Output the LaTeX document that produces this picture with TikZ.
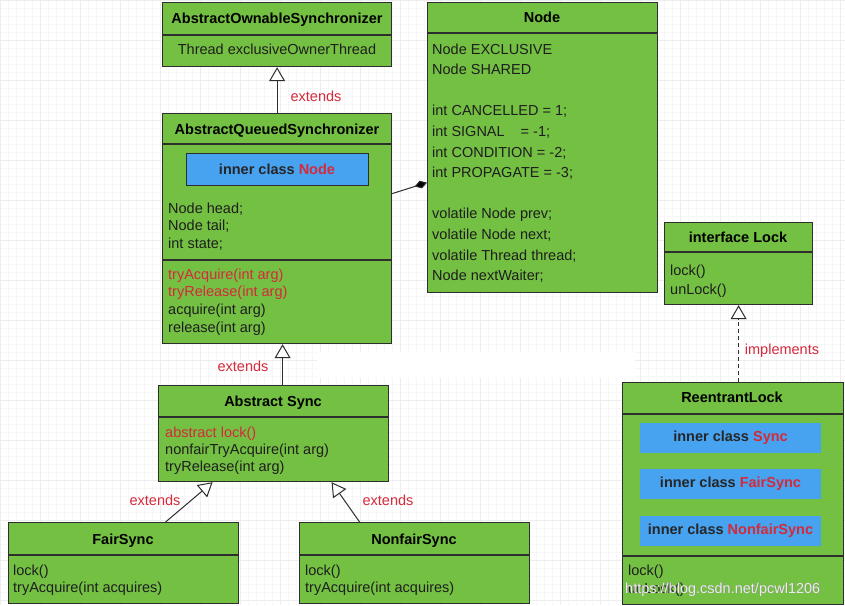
\documentclass[tikz,border=0pt]{standalone}
\usepackage{fontspec}
\setmainfont{Liberation Sans}
\usetikzlibrary{arrows.meta,calc}
\definecolor{umlgreen}{HTML}{74C043}
\definecolor{innerblue}{HTML}{47A2F0}
\definecolor{lblred}{HTML}{D42A3A}
\definecolor{edgegray}{HTML}{2E2E2E}
\definecolor{txtgray}{HTML}{1E1E1E}
\begin{document}
\begin{tikzpicture}[x=1pt,y=-1pt,
  cls/.style={draw=edgegray, line width=1.2pt, fill=umlgreen, anchor=north west, inner sep=0pt, rectangle},
  div/.style={draw=edgegray, line width=1.1pt},
  ttl/.style={anchor=base, inner sep=0pt, font=\fontsize{14.5}{16}\selectfont\bfseries, text=black},
  txt/.style={anchor=base west, inner sep=0pt, font=\fontsize{14.5}{16}\selectfont, text=txtgray},
  ctxt/.style={anchor=base, inner sep=0pt, font=\fontsize{14.5}{16}\selectfont, text=txtgray},
  red/.style={text=lblred},
  innerbox/.style={fill=innerblue, inner sep=0pt, font=\fontsize{14.5}{16}\selectfont\bfseries, text=black!85},
  lbl/.style={anchor=base, inner sep=0pt, font=\fontsize{14.5}{16}\selectfont, text=lblred},
  ext/.style={draw=edgegray, line width=1pt, -{Triangle[length=14pt,width=16pt,fill=white,line width=1pt]}},
  impl/.style={ext, dash pattern=on 4pt off 3pt},
  comp/.style={draw=edgegray, line width=1pt, -{Diamond[length=13pt,width=8pt,fill=black]}}
]
\useasboundingbox (0,0) rectangle (845,605);
\fill[white] (0,0) rectangle (845,605);
\draw[black!3, line width=0.3pt] (0,0) grid[step=8pt] (845,605);
\draw[black!7, line width=0.4pt] (0,0) grid[step=40pt] (845,605);
\fill[white] (317,352) rectangle (635,378);

% AbstractOwnableSynchronizer
\node[cls, minimum width=229pt, minimum height=64pt] (aos) at (162,2) {};
\draw[div] ([yshift=-33pt]aos.north west) -- ([yshift=-33pt]aos.north east);
\node[ttl] (aosT) at (277,23) {AbstractOwnableSynchronizer};
\node[ctxt] (aosF) at (277,54) {Thread exclusiveOwnerThread};

% AbstractQueuedSynchronizer
\node[cls, minimum width=229pt, minimum height=230pt] (aqs) at (162,113) {};
\draw[div] ([yshift=-31pt]aqs.north west) -- ([yshift=-31pt]aqs.north east);
\draw[div] ([yshift=-147pt]aqs.north west) -- ([yshift=-147pt]aqs.north east);
\node[ttl] (aqsT) at (277,134) {AbstractQueuedSynchronizer};
\node[innerbox, draw=edgegray, line width=1pt, minimum width=182pt, minimum height=32pt] (aqsIn) at (277,169) {inner class \textcolor{lblred}{Node}};
\foreach \t [count=\i] in {Node head;, Node tail;, int state;}
  \node[txt] (aqsF\i) at (168,{213+(\i-1)*17.5}) {\t};
\foreach \t [count=\i] in {{\textcolor{lblred}{tryAcquire(int arg)}}, {\textcolor{lblred}{tryRelease(int arg)}}, acquire(int arg), release(int arg)}
  \node[txt] (aqsM\i) at (168,{279+(\i-1)*17.7}) {\t};

% Node
\node[cls, minimum width=230pt, minimum height=290pt] (node) at (427,2) {};
\draw[div] ([yshift=-31pt]node.north west) -- ([yshift=-31pt]node.north east);
\node[ttl] (nodeT) at (542,22) {Node};
\foreach \t [count=\i] in {Node EXCLUSIVE, Node SHARED, {}, int CANCELLED = 1;, {int SIGNAL\hspace{16pt}= -1;}, int CONDITION = -2;, int PROPAGATE = -3;, {}, volatile Node prev;, volatile Node next;, volatile Thread thread;, Node nextWaiter;}
  \node[txt] (nodeF\i) at (432,{54+(\i-1)*20.6}) {\t};

% interface Lock
\node[cls, minimum width=148pt, minimum height=82pt] (lock) at (664,222) {};
\draw[div] ([yshift=-30pt]lock.north west) -- ([yshift=-30pt]lock.north east);
\node[ttl] (lockT) at (738,242) {interface Lock};
\node[txt] (lockM1) at (670,275) {lock()};
\node[txt] (lockM2) at (670,294) {unLock()};

% ReentrantLock
\node[cls, minimum width=221pt, minimum height=222pt] (rl) at (622,382) {};
\draw[div] ([yshift=-32pt]rl.north west) -- ([yshift=-32pt]rl.north east);
\draw[div] ([yshift=-174pt]rl.north west) -- ([yshift=-174pt]rl.north east);
\node[ttl] (rlT) at (732,402) {ReentrantLock};
\node[innerbox, minimum width=181pt, minimum height=30pt] (rlIn1) at (730.5,438) {inner class \textcolor{lblred}{Sync}};
\node[innerbox, minimum width=181pt, minimum height=30pt] (rlIn2) at (730.5,484) {inner class \textcolor{lblred}{FairSync}};
\node[innerbox, minimum width=181pt, minimum height=30pt] (rlIn3) at (730.5,531) {inner class \textcolor{lblred}{NonfairSync}};
\node[txt] (rlM1) at (628,575) {lock()};
\node[txt] (rlM2) at (628,593) {unLock()};
\node[anchor=base west, inner sep=0pt, font=\fontsize{14.5}{16}\selectfont, text=black!45] (wmS) at (625.6,593.6) {https://blog.csdn.net/pcwl1206};
\node[anchor=base west, inner sep=0pt, font=\fontsize{14.5}{16}\selectfont, text=white!92!black] (wm) at (625,593) {https://blog.csdn.net/pcwl1206};

% Abstract Sync
\node[cls, minimum width=230pt, minimum height=96pt] (as) at (158,385) {};
\draw[div] ([yshift=-32pt]as.north west) -- ([yshift=-32pt]as.north east);
\node[ttl] (asT) at (273,406) {Abstract Sync};
\node[txt, red] (asM1) at (165,437) {abstract lock()};
\node[txt] (asM2) at (165,454) {nonfairTryAcquire(int arg)};
\node[txt] (asM3) at (165,471) {tryRelease(int arg)};

% FairSync
\node[cls, minimum width=230pt, minimum height=81pt] (fair) at (8,522) {};
\draw[div] ([yshift=-33pt]fair.north west) -- ([yshift=-33pt]fair.north east);
\node[ttl] (fairT) at (123,544) {FairSync};
\node[txt] (fairM1) at (13,575) {lock()};
\node[txt] (fairM2) at (13,592) {tryAcquire(int acquires)};

% NonfairSync
\node[cls, minimum width=230pt, minimum height=81pt] (nfair) at (299,522) {};
\draw[div] ([yshift=-33pt]nfair.north west) -- ([yshift=-33pt]nfair.north east);
\node[ttl] (nfairT) at (414,544) {NonfairSync};
\node[txt] (nfairM1) at (305,575) {lock()};
\node[txt] (nfairM2) at (305,592) {tryAcquire(int acquires)};

% connectors
\draw[ext] (aqs.north) -- (aos.south);
\node[lbl] (l1) at (316,101) {extends};
\draw[ext] ([xshift=9pt]as.north) -- ([xshift=9pt]as.north |- aqs.south);
\node[lbl] (l2) at (243,371) {extends};
\draw[ext] ([xshift=42pt]fair.north) -- ([xshift=-61pt]as.south);
\node[lbl] (l3) at (155,505) {extends};
\draw[ext] ([xshift=-55pt]nfair.north) -- ([xshift=58pt]as.south);
\node[lbl] (l4) at (388,505) {extends};
\draw[impl] (lock.south |- rl.north) -- (lock.south);
\node[lbl] (l5) at (782,354) {implements};
\draw[comp] ([yshift=35pt]aqs.east) -- ([yshift=-35pt]node.west);
\end{tikzpicture}
\end{document}
